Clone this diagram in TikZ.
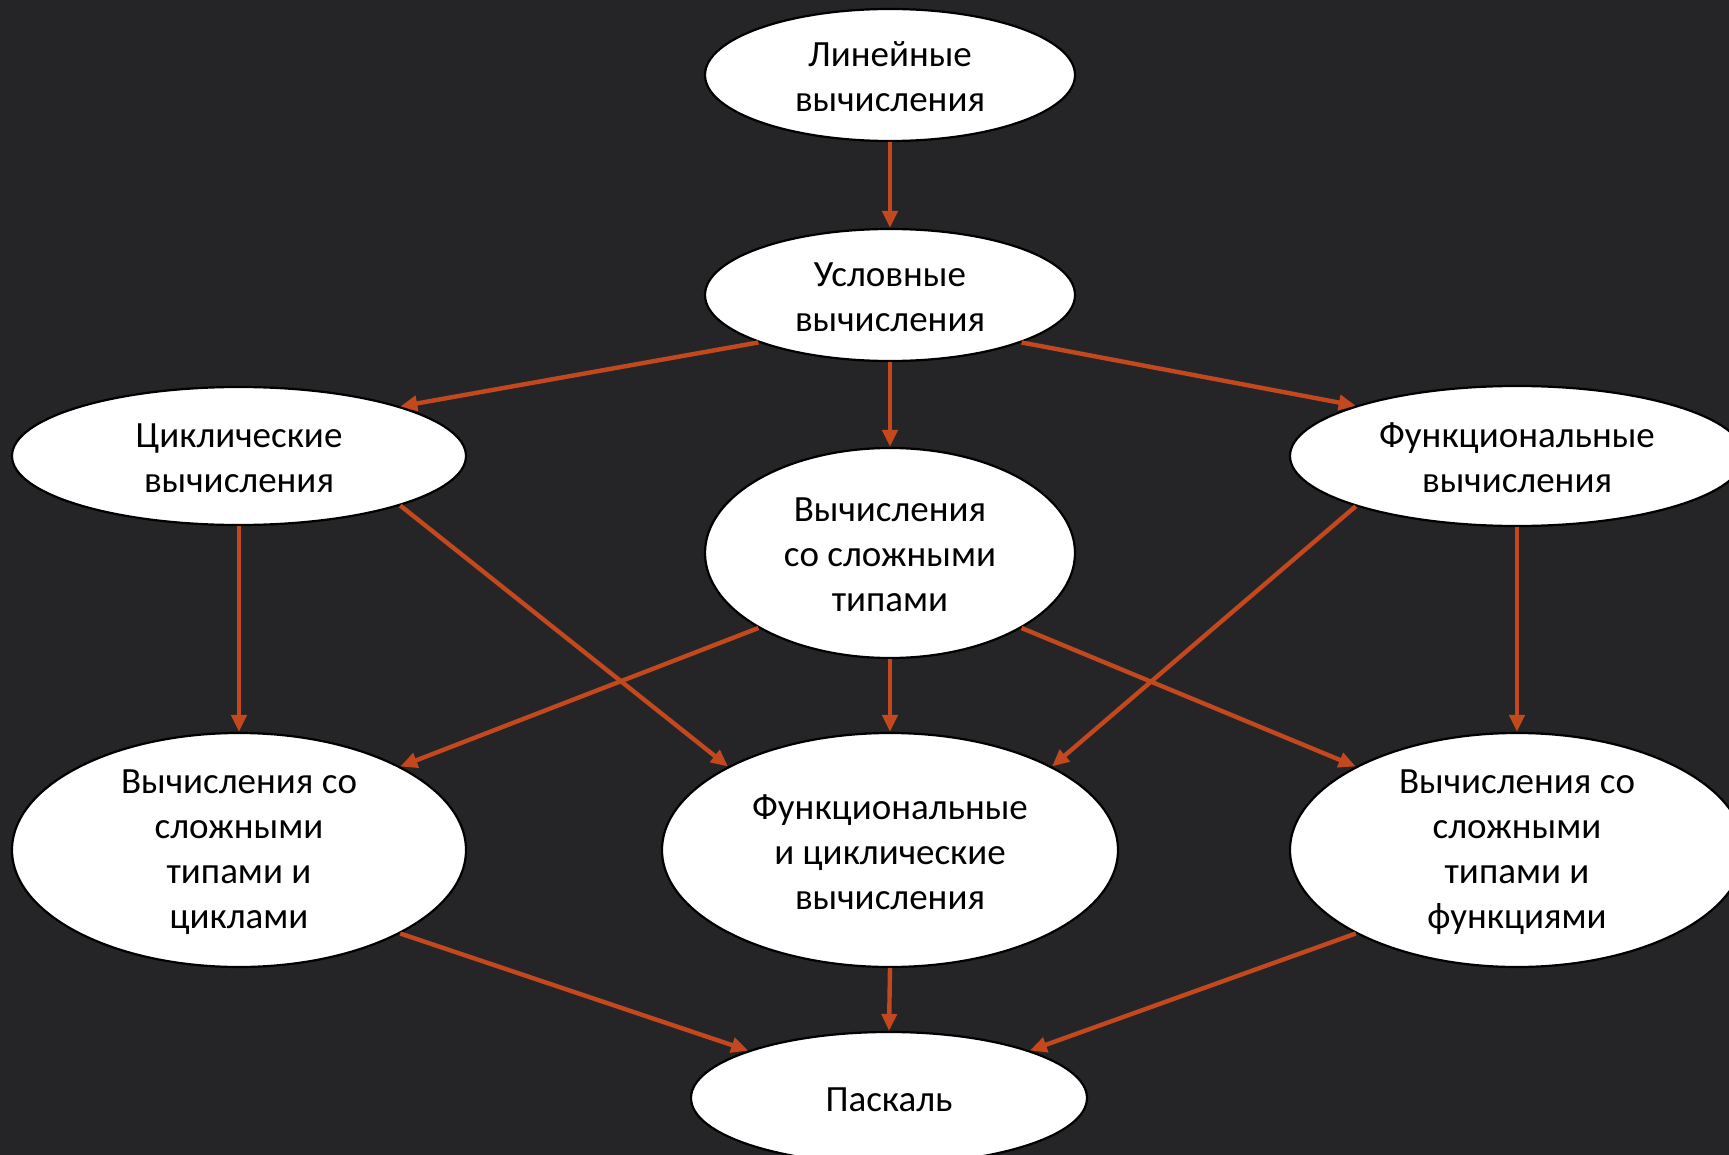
\documentclass[tikz,border=0pt]{standalone}
\usepackage{fontspec}
\setmainfont{Carlito}
\usetikzlibrary{arrows.meta,shapes.geometric}
\definecolor{bg}{RGB}{37,37,39}
\definecolor{arr}{RGB}{195,72,30}
\begin{document}
\begin{tikzpicture}[x=1pt,y=-1pt,
 ell/.style={ellipse, draw=black, line width=2.2pt, fill=white, inner sep=0pt},
 txt/.style={align=center, font=\fontsize{37}{45}\selectfont, text=black, inner sep=0pt, yshift=-2pt},
 con/.style={draw=arr, line width=4.4pt, -{Triangle[length=17pt,width=15pt]}}]
\useasboundingbox (0,0) rectangle (1729,1155);
\clip (0,0) rectangle (1729,1155);
\fill[bg] (0,0) rectangle (1729,1155);

\node[ell, minimum width=370pt, minimum height=132pt] (lin) at (890,75) {};
\node[ell, minimum width=370pt, minimum height=132pt] (usl) at (890,295) {};
\node[ell, minimum width=454pt, minimum height=138pt] (cyc) at (239,456) {};
\node[ell, minimum width=454pt, minimum height=140pt] (fun) at (1517,456) {};
\node[ell, minimum width=370pt, minimum height=210pt] (slo) at (890,553) {};
\node[ell, minimum width=454pt, minimum height=234pt] (bl) at (239,850) {};
\node[ell, minimum width=456pt, minimum height=234pt] (bm) at (890,850) {};
\node[ell, minimum width=454pt, minimum height=234pt] (br) at (1517,850) {};
\node[ell, minimum width=396pt, minimum height=132pt] (pas) at (889,1098) {};

\node[txt] (linT) at (lin) {Линейные\\вычисления};
\node[txt] (uslT) at (usl) {Условные\\вычисления};
\node[txt] (cycT) at (cyc) {Циклические\\вычисления};
\node[txt] (funT) at (fun) {Функциональные\\вычисления};
\node[txt] (sloT) at (slo) {Вычисления\\со сложными\\типами};
\node[txt] (blT) at (bl) {Вычисления со\\сложными\\типами и\\циклами};
\node[txt] (bmT) at (bm) {Функциональные\\и циклические\\вычисления};
\node[txt] (brT) at (br) {Вычисления со\\сложными\\типами и\\функциями};
\node[txt] (pasT) at (pas) {Паскаль};

\draw[con] (lin.south) -- (usl.north);
\draw[con] (usl.south) -- (slo.north);
\draw[con] (usl.south west) -- (cyc.north east);
\draw[con] (usl.south east) -- (fun.north west);
\draw[con] (cyc.south) -- (bl.north);
\draw[con] (cyc.south east) -- (bm.north west);
\draw[con] (fun.south west) -- (bm.north east);
\draw[con] (fun.south) -- (br.north);
\draw[con] (slo.south west) -- (bl.north east);
\draw[con] (slo.south) -- (bm.north);
\draw[con] (slo.south east) -- (br.north west);
\draw[con] (bl.south east) -- (pas.north west);
\draw[con] (bm.south) -- (pas.north);
\draw[con] (br.south west) -- (pas.north east);
\end{tikzpicture}
\end{document}
